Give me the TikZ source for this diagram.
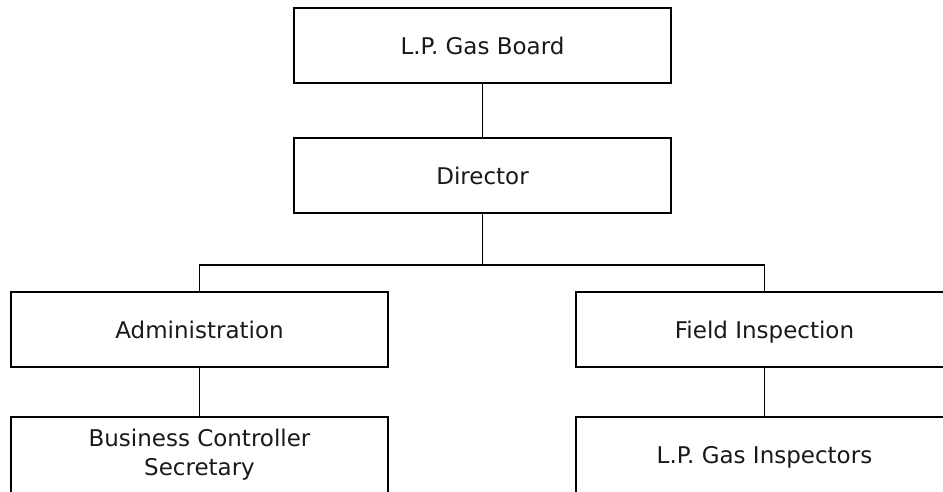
\documentclass[tikz,border=0pt]{standalone}
\usepackage{fontspec}
\setmainfont{DejaVu Sans}
\begin{document}
\begin{tikzpicture}[x=1pt,y=-1pt,
  orgbox/.style={draw=black,line width=1.8pt,minimum width=377pt,minimum height=75pt,
    inner sep=0pt,align=center,font=\fontsize{23}{29}\selectfont,text=black!90},
  oneline/.style={orgbox,text height=17pt,text depth=0pt},
  link/.style={draw=black,line width=1.8pt}]
\useasboundingbox (0,0) rectangle (943,491);
\clip (0,0) rectangle (943,491);
\fill[white] (0,0) rectangle (943,491);
\node[oneline] (board) at (482.5,45.5) {L.P. Gas Board};
\node[oneline] (dir) at (482.5,175.5) {Director};
\node[oneline] (admin) at (199.5,329.5) {Administration};
\node[oneline] (field) at (764.5,329.5) {Field Inspection};
\node[orgbox,minimum height=76pt] (bcs) at (199.5,455) {Business Controller\\Secretary};
\node[oneline,minimum height=76pt] (insp) at (764.5,455) {L.P. Gas Inspectors};
\coordinate (split) at (482.5,265);
\draw[link] (board) -- (dir);
\draw[link] (dir) -- (split);
\draw[link] (admin.north) |- (split) -| (field.north);
\draw[link] (admin) -- (bcs);
\draw[link] (field) -- (insp);
\end{tikzpicture}
\end{document}
